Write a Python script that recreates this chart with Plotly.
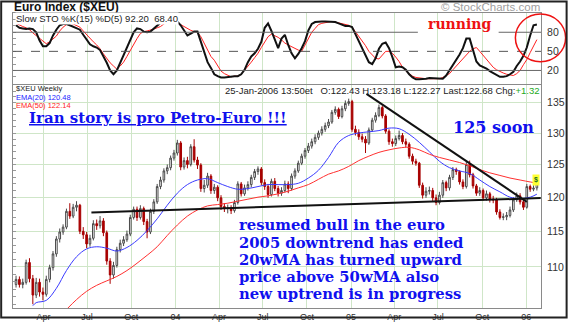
import math
import pandas as pd
import plotly.graph_objects as go

# ---------------- data ----------------
week_start = "2003-02-03"
n_weeks = 156

opens = [107.6,108.3,107.6,107.9,110.6,108.4,106.2,107.9,106.6,106.3,
         108.3,109.9,111.8,113.9,114.9,115.6,117.9,117.2,118.5,118.8,
         115.0,114.5,113.2,114.0,116.1,115.8,116.5,114.8,110.8,108.9,
         110.2,112.4,113.3,113.8,114.6,117.0,118.2,117.0,118.3,116.4,
         114.9,117.9,119.3,121.6,122.6,124.0,124.5,126.0,126.8,128.4,
         124.6,125.6,125.0,127.8,125.7,124.9,121.3,121.8,123.2,121.0,
         121.5,119.9,118.6,118.3,118.4,118.0,119.2,122.0,120.5,121.4,
         121.9,123.0,123.9,124.3,122.2,121.6,120.4,122.4,121.3,120.6,
         121.0,122.0,121.3,123.2,124.0,125.2,126.3,127.2,127.9,128.6,
         129.3,130.0,130.6,131.2,131.8,133.4,133.9,132.7,134.0,134.9,
         135.2,130.6,130.1,129.4,129.0,128.4,130.5,132.1,132.9,134.2,
         132.8,130.3,128.6,128.3,129.1,129.6,128.6,128.2,126.3,125.5,
         125.2,121.8,120.3,120.9,121.0,119.9,119.2,120.3,122.2,121.4,
         123.0,124.2,123.9,122.3,121.6,125.0,123.4,121.7,120.6,121.0,
         119.9,120.5,119.7,119.6,117.8,117.0,117.1,117.3,118.1,119.6,
         120.2,119.3,118.5,121.6,121.2,121.4]
highs = [108.8,108.7,108.4,111.0,111.2,108.9,108.5,108.4,107.2,108.8,
         110.3,112.2,114.3,115.4,116.0,118.3,119.1,119.0,119.4,119.0,
         115.6,114.9,114.5,116.6,116.7,117.2,116.9,115.1,111.2,110.7,
         112.8,113.8,114.3,115.1,117.4,118.6,118.6,118.8,118.6,116.8,
         118.3,119.7,122.0,123.1,124.4,125.0,126.4,127.3,128.9,128.7,
         126.1,126.2,128.2,129.0,126.2,125.2,122.6,123.7,123.5,122.0,
         121.8,120.3,119.1,118.9,118.8,119.6,122.4,122.3,121.9,122.4,
         123.4,124.3,124.7,124.6,122.7,122.0,122.8,122.9,121.7,121.5,
         122.5,122.4,123.6,124.4,125.6,126.7,127.6,128.4,129.1,129.8,
         130.4,131.1,131.7,132.3,133.8,134.4,134.2,134.5,135.4,135.7,
         135.5,131.2,130.6,129.9,129.5,130.9,132.5,133.4,134.7,134.5,
         133.1,130.6,129.1,129.6,130.4,130.0,129.1,128.5,126.7,125.9,
         125.4,122.2,121.5,121.6,121.4,120.4,120.8,122.6,122.5,123.4,
         124.6,124.5,124.1,122.7,125.4,125.6,123.7,122.0,121.5,121.3,
         121.0,120.8,120.2,119.9,118.2,117.6,117.8,118.6,120.0,120.7,
         120.6,119.7,122.0,121.9,121.8,123.18]
lows = [107.2,107.2,107.1,107.6,107.9,105.0,105.8,106.0,105.5,106.0,
        107.9,109.5,111.4,113.4,114.5,115.3,116.8,116.9,117.9,114.6,
        113.9,112.6,112.8,113.7,115.2,115.4,114.3,110.3,107.7,108.4,
        109.9,112.0,112.9,113.5,114.3,116.7,116.5,116.7,115.9,114.0,
        114.6,117.5,119.0,121.2,122.2,123.5,124.1,125.6,126.4,124.1,
        124.2,124.4,124.7,125.3,124.3,120.8,120.7,121.4,120.5,120.5,
        119.4,118.1,117.8,117.6,117.5,117.7,118.9,120.1,120.2,121.0,
        121.5,122.6,123.4,121.8,121.1,119.9,120.1,120.9,120.1,120.2,
        120.7,120.6,121.0,122.8,123.7,124.9,125.9,126.8,127.5,128.2,
        128.9,129.6,130.2,130.8,131.5,133.0,132.3,132.4,133.6,134.5,
        130.2,129.6,128.9,128.5,126.8,128.1,130.2,131.7,132.6,132.4,
        129.9,128.1,127.8,127.9,128.8,128.2,127.7,125.9,125.0,124.8,
        121.4,119.8,119.9,120.4,119.4,118.8,118.9,119.9,120.9,121.0,
        122.6,123.4,121.9,121.2,121.3,123.0,121.3,120.2,120.2,119.5,
        119.5,119.2,119.1,117.4,116.7,116.6,116.6,117.0,117.8,119.3,
        118.9,118.1,118.3,120.8,120.9,121.0]
closes = [108.3,107.6,107.9,110.6,108.4,106.2,107.9,106.6,106.3,108.3,
          109.9,111.8,113.9,114.9,115.6,117.9,117.2,118.5,118.8,115.0,
          114.5,113.2,114.0,116.1,115.8,116.5,114.8,110.8,108.9,110.2,
          112.4,113.3,113.8,114.6,117.0,118.2,117.0,118.3,116.4,114.9,
          117.9,119.3,121.6,122.6,124.0,124.5,126.0,126.8,128.4,124.6,
          125.6,125.0,127.8,125.7,124.9,121.3,121.8,123.2,121.0,121.5,
          119.9,118.6,118.3,118.4,118.0,119.2,122.0,120.5,121.4,121.9,
          123.0,123.9,124.3,122.2,121.6,120.4,122.4,121.3,120.6,121.0,
          122.0,121.3,123.2,124.0,125.2,126.3,127.2,127.9,128.6,129.3,
          130.0,130.6,131.2,131.8,133.4,133.9,132.7,134.0,134.9,135.2,
          130.6,130.1,129.4,129.0,128.4,130.5,132.1,132.9,134.2,132.8,
          130.3,128.6,128.3,129.1,129.6,128.6,128.2,126.3,125.5,125.2,
          121.8,120.3,120.9,121.0,119.9,119.2,120.3,122.2,121.4,123.0,
          124.2,123.9,122.3,121.6,125.0,123.4,121.7,120.6,121.0,119.9,
          120.5,119.7,119.6,117.8,117.0,117.1,117.3,118.1,119.6,120.2,
          119.3,118.5,121.6,121.2,121.36,122.68]

ema20_weeks = [5, 6] + list(range(9, 154, 3)) + [155]
ema20_vals = [104.8,105.2,
              105.5,107.1,109.5,111.4,112.5,112.8,112.6,112.2,112.7,113.7,
              115.1,116.8,118.8,120.6,121.9,122.6,122.8,122.2,121.6,121.2,
              121.3,121.6,121.9,121.9,121.9,122.1,122.9,124.1,126.1,128.5,
              129.6,130.0,130.2,130.4,130.8,130.7,129.8,128.5,127.0,125.5,
              124.5,124.0,123.6,122.6,121.6,120.8,120.0,119.8,120.0,
              120.45]
ema50_weeks = list(range(15, 154, 3)) + [155]
ema50_vals = [104.3,105.6,106.7,107.5,108.1,108.7,109.5,110.5,111.6,112.8,
              114.4,115.9,117.2,118.1,118.7,118.9,119.1,119.4,119.7,120.0,
              120.2,120.5,120.9,121.4,121.9,122.7,123.5,124.0,124.7,125.6,
              126.3,126.9,127.3,127.6,127.7,127.3,126.6,126.1,125.7,125.3,
              124.8,124.2,123.7,123.3,122.9,122.6,122.3,
              122.14]

sto_k = [91,87,86,85,86,85,80,67,58,58,
         63,75,84,91,93,93,91,89,87,84,
         76,68,61,58,56,52,43,32,20,14,
         20,32,44,56,68,80,86,85,81,80,
         81,86,91,95,97,97,97,97,97,91,
         83,75,78,81,81,66,50,33,24,14,
         11,9,9,10,10,11,11,14,21,33,
         42,47,54,65,87,94,82,68,55,70,
         76,60,47,39,46,55,66,83,93,96,
         97,97,97,97,97,96,94,92,90,90,
         88,77,66,56,43,33,30,39,54,62,
         64,55,41,25,26,25,21,14,9,6,
         6,6,7,8,8,8,7,7,12,20,
         27,36,45,55,70,70,53,34,28,26,
         23,19,16,12,10,10,11,14,18,27,
         34,43,56,75,91,92.2]
sto_d = [94,91,89,87,84,79,75,71,66,62,
         65,69,74,82,88,92,94,93,91,88,
         82,76,70,65,60,54,46,39,32,27,
         22,27,33,42,52,62,70,78,81,82,
         83,85,87,89,93,96,96,96,96,92,
         89,85,83,81,80,73,63,52,42,36,
         27,19,15,12,10,11,11,14,20,27,
         33,40,47,56,65,73,77,75,72,68,
         63,60,57,54,52,50,60,70,80,86,
         92,94,95,96,97,96,95,94,93,91,
         88,81,74,67,59,50,44,39,38,44,
         50,50,47,41,34,25,19,15,11,9,
         8,8,7,7,7,7,7,9,12,15,
         21,27,32,39,45,50,54,56,50,44,
         37,31,25,21,18,16,14,13,12,15,
         20,29,37,48,59,68.4]

support_dates = ["2003-07-10", "2006-01-31"]
support_vals = [117.74, 119.86]
downtrend_dates = ["2005-02-02", "2006-01-02"]
downtrend_vals = [136.5, 119.3]

quarter_ticks = ["2003-04-01","2003-07-01","2003-10-01","2004-01-01",
                 "2004-04-01","2004-07-01","2004-10-01","2005-01-01",
                 "2005-04-01","2005-07-01","2005-10-01","2006-01-01"]
quarter_labels = ["Apr","Jul","Oct","04","Apr","Jul","Oct","05",
                  "Apr","Jul","Oct","06"]
price_ticks = [110, 115, 120, 125, 130, 135]
sto_ticks = [20, 50, 80]

# ---------------- figure ----------------
W, H = 576, 333
L, R, T, B = 13, 549, 13, 322   # plot area in page pixels

def px(x):
    return (x - L) / (R - L)

def py(y):
    return (B - y) / (B - T)

dates = pd.date_range(week_start, periods=n_weeks, freq="7D")
ema20_x = [dates[i] for i in ema20_weeks]
ema50_x = [dates[i] for i in ema50_weeks]

GRID = "#cfe6c8"
AXL = "#8a8a8a"
SANS = "Arial, Liberation Sans, sans-serif"
SERIF = "DejaVu Serif, serif"
BLUE = "#1010ee"

fig = go.Figure()

fig.add_trace(go.Candlestick(
    x=dates, open=opens, high=highs, low=lows, close=closes,
    increasing=dict(line=dict(color="#4a4a4a", width=1), fillcolor="white"),
    decreasing=dict(line=dict(color="#a80000", width=1), fillcolor="#a80000"),
    whiskerwidth=0, showlegend=False, xaxis="x", yaxis="y"))

fig.add_trace(go.Scatter(x=ema20_x, y=ema20_vals, mode="lines",
                         line=dict(color="#3b3bff", width=1, shape="spline"),
                         showlegend=False, xaxis="x", yaxis="y"))
fig.add_trace(go.Scatter(x=ema50_x, y=ema50_vals, mode="lines",
                         line=dict(color="#ff3030", width=1, shape="spline"),
                         showlegend=False, xaxis="x", yaxis="y"))

fig.add_trace(go.Scatter(x=support_dates, y=support_vals, mode="lines",
                         line=dict(color="#111111", width=2),
                         showlegend=False, xaxis="x", yaxis="y"))
fig.add_trace(go.Scatter(x=downtrend_dates, y=downtrend_vals, mode="lines",
                         line=dict(color="#111111", width=2),
                         showlegend=False, xaxis="x", yaxis="y"))

fig.add_trace(go.Scatter(x=dates, y=sto_d, mode="lines",
                         line=dict(color="#ff2020", width=1),
                         showlegend=False, xaxis="x2", yaxis="y2"))
fig.add_trace(go.Scatter(x=dates, y=sto_k, mode="lines",
                         line=dict(color="#111111", width=2),
                         showlegend=False, xaxis="x2", yaxis="y2"))

# invisible carriers for the left-side minor tick axes
fig.add_trace(go.Scatter(x=[dates[0]], y=[120], mode="markers",
                         marker=dict(opacity=0), hoverinfo="skip",
                         showlegend=False, xaxis="x", yaxis="y3"))
fig.add_trace(go.Scatter(x=[dates[0]], y=[50], mode="markers",
                         marker=dict(opacity=0), hoverinfo="skip",
                         showlegend=False, xaxis="x2", yaxis="y4"))

main_top = py(88)
sto_bot = py(87.5)
log_rng = [math.log10(104.5), math.log10(138.1)]
x_rng = ["2003-01-27 16:00", "2006-01-31 14:00"]

fig.update_layout(
    width=W, height=H, autosize=False,
    margin=dict(l=L, r=W - R, t=T, b=H - B, pad=0),
    paper_bgcolor="white", plot_bgcolor="white",
    showlegend=False,
    font=dict(family=SANS, size=9, color="#222"),
    xaxis=dict(domain=[0, 1], anchor="y", type="date", range=x_rng,
               tickvals=quarter_ticks, ticktext=quarter_labels,
               tickfont=dict(size=9, color="#333"), ticks="", ticklen=0,
               showgrid=True, gridcolor=GRID, gridwidth=1,
               showline=True, linecolor=AXL, linewidth=1, mirror=True,
               zeroline=False, rangeslider=dict(visible=False)),
    xaxis2=dict(domain=[0, 1], anchor="y2", type="date", range=x_rng,
                matches="x", tickvals=quarter_ticks, showticklabels=False,
                showgrid=True, gridcolor=GRID, gridwidth=1, ticks="",
                showline=True, linecolor=AXL, linewidth=1, mirror=True,
                zeroline=False),
    yaxis=dict(domain=[0, main_top], anchor="x", type="log", range=log_rng,
               side="right", tickvals=price_ticks,
               ticktext=[str(v) for v in price_ticks],
               tickfont=dict(size=10.5, color="#333"),
               ticks="outside", ticklen=3, tickcolor="white",
               showgrid=True, gridcolor=GRID, gridwidth=1,
               showline=True, linecolor=AXL, linewidth=1, mirror=True,
               zeroline=False),
    yaxis2=dict(domain=[sto_bot, 1], anchor="x2", range=[-1.5, 110.25],
                side="right", tickvals=sto_ticks,
                tickfont=dict(size=10.5, color="#333"),
                ticks="outside", ticklen=3, tickcolor="white",
                showgrid=False, showline=True, linecolor=AXL, linewidth=1,
                mirror=True, zeroline=False),
    yaxis3=dict(overlaying="y", anchor="x", side="left", type="log",
                range=log_rng, tickvals=list(range(105, 139)),
                ticks="inside", ticklen=3, tickcolor="#999",
                showticklabels=False, showgrid=False, showline=False,
                zeroline=False),
    yaxis4=dict(overlaying="y2", anchor="x2", side="left",
                range=[-1.5, 110.25], tickvals=list(range(0, 111, 10)),
                ticks="inside", ticklen=3, tickcolor="#999",
                showticklabels=False, showgrid=False, showline=False,
                zeroline=False),
)

shapes = [
    # stochastic reference lines
    dict(type="line", xref="paper", yref="y2", x0=0, x1=px(424), y0=80, y1=80,
         line=dict(color="#666", width=1)),
    dict(type="line", xref="paper", yref="y2", x0=px(506), x1=1, y0=80, y1=80,
         line=dict(color="#666", width=1)),
    dict(type="line", xref="paper", yref="y2", x0=0, x1=1, y0=50, y1=50,
         line=dict(color="#555", width=1, dash="dash")),
    dict(type="line", xref="paper", yref="y2", x0=0, x1=1, y0=20, y1=20,
         line=dict(color="#666", width=1)),
    # red circle around the latest stochastic reading
    dict(type="circle", xref="paper", yref="paper",
         x0=px(523), x1=px(574), y0=py(64), y1=py(14),
         line=dict(color="#ee1111", width=1.5)),
    # outer frame
    dict(type="rect", xref="paper", yref="paper",
         x0=px(1), x1=px(575), y0=py(332), y1=py(1),
         line=dict(color="#222", width=2)),
]
fig.update_layout(shapes=shapes)

ann = []
def note(text, x, y, size, color="#222", family=SANS, xanchor="left",
         bgcolor=None, pad=0):
    d = dict(text=text, x=px(x), y=py(y), xref="paper", yref="paper",
             xanchor=xanchor, yanchor="middle", showarrow=False,
             font=dict(family=family, size=size, color=color), borderpad=pad)
    if bgcolor:
        d["bgcolor"] = bgcolor
    ann.append(d)

note("<b>Euro Index ($XEU)</b>", 13, 6.5, 12, "#111")
note("© StockCharts.com", 549, 7, 11.5, "#a0a0a0", xanchor="right")
note("Slow STO %K(15) %D(5) 92.20  68.40", 15, 18.5, 9.5, "#222",
     bgcolor="white")
note("$XEU Weekly", 15, 92.5, 7.5, "#222")
note("EMA(20) 120.48", 15, 101, 7.5, "#2222ff")
note("EMA(50) 122.14", 15, 109.5, 7.5, "#ff2222")
note("25-Jan-2006 13:50et   O:122.43 H:123.18 L:122.27 Last:122.68 "
     "Chg:<span style='color:#22aa22'>+1.32</span>", 549, 94, 9.5, "#222",
     xanchor="right")
note("<b>running</b>", 466, 24, 14, "#ee1111", family=SERIF, xanchor="center")
note("<b><u>Iran story is pro Petro-Euro !!!</u></b>", 160, 123, 15, BLUE,
     family=SERIF, xanchor="center")
note("<b>125 soon</b>", 501, 133, 16, BLUE, family=SERIF, xanchor="center")
block = ["resumed bull in the euro", "2005 downtrend has ended",
         "20wMA has turned upward", "price above 50wMA also",
         "new uptrend is in progress"]
for k, line in enumerate(block):
    note("<b>" + line + "</b>", 241, 235 + k * 18.0, 14.8, BLUE, family=SERIF)
note("<b>$</b>", 544, 188, 7, "#207020", xanchor="center", bgcolor="#ffff33",
     pad=1)

fig.update_layout(annotations=ann)

fig.write_html("out.html")
